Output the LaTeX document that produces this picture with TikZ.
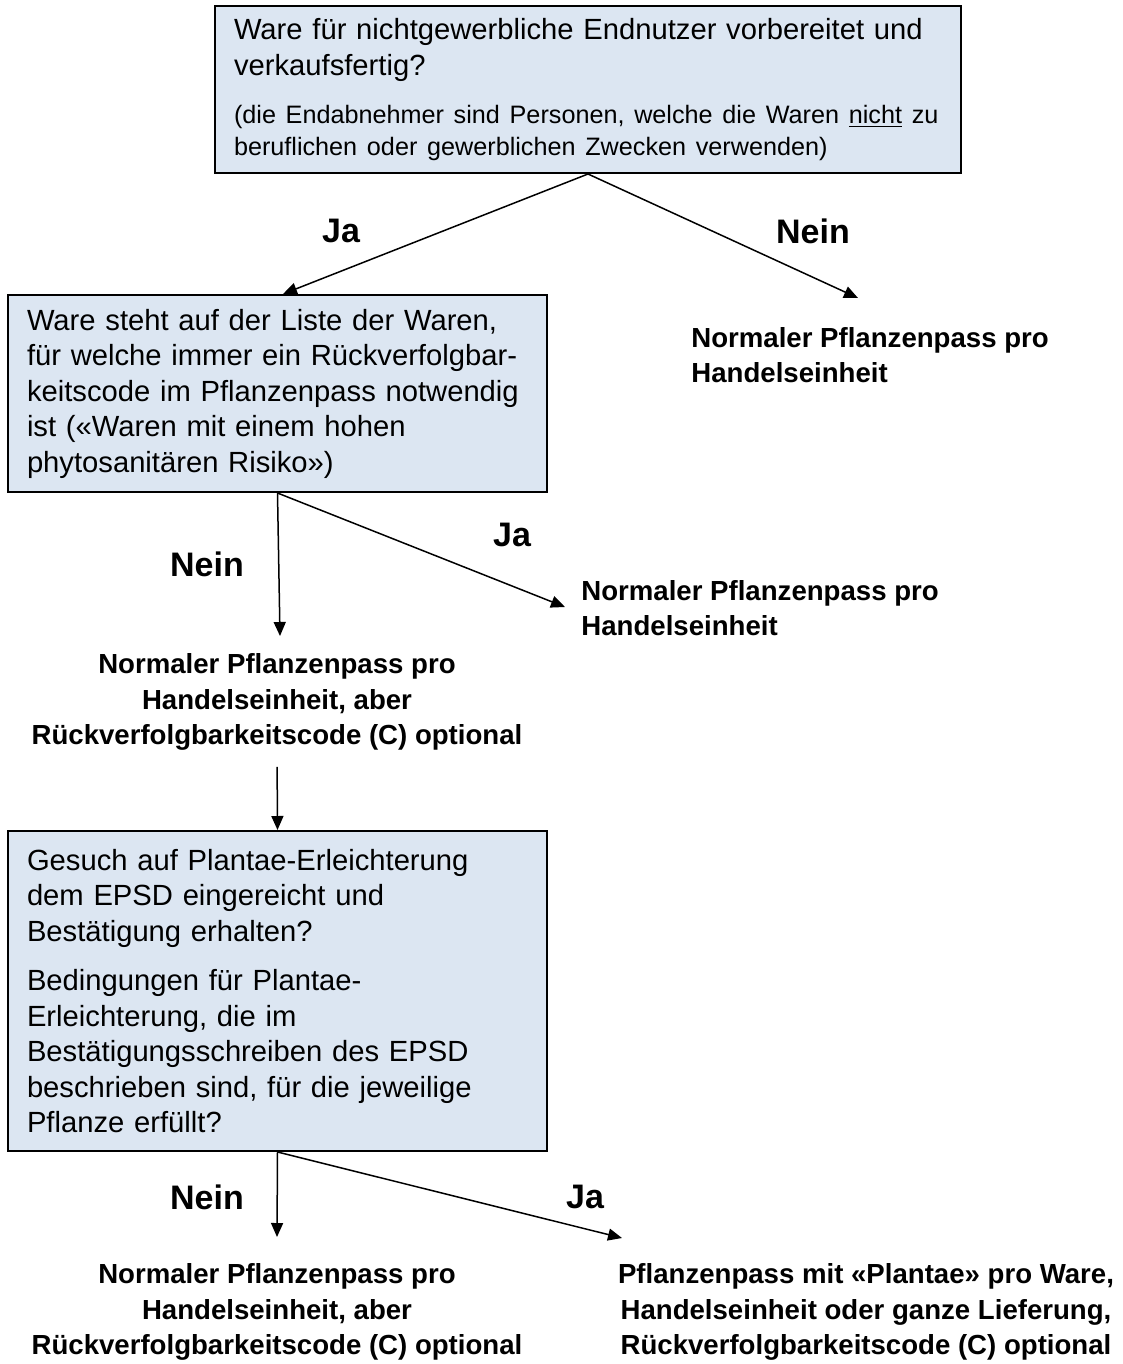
\documentclass[tikz,border=0pt]{standalone}
\usepackage{fontspec}
\setmainfont{Liberation Sans}
\usetikzlibrary{arrows.meta}
\definecolor{boxblue}{HTML}{DCE6F2}
\tikzset{
    box/.style={draw,line width=1pt,fill=boxblue,align=left,inner xsep=9.5pt,font=\fontsize{14.6}{17.75}\selectfont},
    outcome/.style={align=center,inner sep=0pt,font=\bfseries\fontsize{13.8}{17.75}\selectfont},
    answer/.style={font=\bfseries\fontsize{17}{18}\selectfont,inner sep=0pt},
    arr/.style={line width=0.75pt,-{Triangle[length=7pt,width=6pt]}}
}
\begin{document}
\begin{tikzpicture}[x=0.5pt,y=-0.5pt]
        \useasboundingbox (0,0) rectangle (1123,1364);
        % questions
        \node[box,minimum width=373pt,minimum height=83.5pt,text width=354pt] (q1) at (588,89.5)
            {Ware für nichtgewerbliche Endnutzer vorbereitet und\\ verkaufsfertig?\par\vspace{8pt}
            {\fontsize{12.6}{16}\selectfont (die Endabnehmer sind Personen, welche die Waren \underline{nicht} zu\\
            beruflichen oder gewerblichen Zwecken verwenden)\par}};
        \node[box,minimum width=269.5pt,minimum height=98.5pt,text width=250.5pt] (q2) at (277.5,393.5)
            {Ware steht auf der Liste der Waren,\\ für welche immer ein Rückverfolgbar-\\ keitscode im Pflanzenpass notwendig\\ ist («Waren mit einem hohen\\ phytosanitären Risiko»)};
        \node[box,minimum width=269.5pt,minimum height=160pt,text width=250.5pt] (q3) at (277.5,991)
            {Gesuch auf Plantae-Erleichterung\\ dem EPSD eingereicht und\\ Bestätigung erhalten?\\[7pt]
            Bedingungen für Plantae-\\ Erleichterung, die im\\ Bestätigungsschreiben des EPSD\\ beschrieben sind, für die jeweilige\\ Pflanze erfüllt?};
        % outcomes
        \node[outcome,align=left,anchor=west] (o1) at (691,355) {Normaler Pflanzenpass pro\\ Handelseinheit};
        \node[outcome,align=left,anchor=west] (o2) at (581,608) {Normaler Pflanzenpass pro\\ Handelseinheit};
        \node[outcome] (o3) at (277,702) {Normaler Pflanzenpass pro\\ Handelseinheit, aber\\ Rückverfolgbarkeitscode (C) optional};
        \node[outcome] (o4) at (277,1312) {Normaler Pflanzenpass pro\\ Handelseinheit, aber\\ Rückverfolgbarkeitscode (C) optional};
        \node[outcome] (o5) at (866,1312) {Pflanzenpass mit «Plantae» pro Ware,\\ Handelseinheit oder ganze Lieferung,\\ Rückverfolgbarkeitscode (C) optional};
        % arrow tips
        \coordinate (t1) at (858,298);
        \coordinate (t2) at (280,636);
        \coordinate (t3) at (565,607);
        \coordinate (t4) at (277,1237);
        \coordinate (t5) at (622,1238);
        \draw[arr] (q1.south) -- ([xshift=2.75pt]q2.north);
        \draw[arr] (q1.south) -- (t1);
        \draw[arr] (q2.south) -- (t2);
        \draw[arr] (q2.south) -- (t3);
        \draw[arr,shorten <=8pt] (o3.south) -- (q3.north);
        \draw[arr] (q3.south) -- (t4);
        \draw[arr] (q3.south) -- (t5);
        % answers
        \node[answer] (a1) at (341,231) {Ja};
        \node[answer] (a2) at (813,231) {Nein};
        \node[answer] (a3) at (512,535) {Ja};
        \node[answer] (a4) at (207,564) {Nein};
        \node[answer] (a5) at (207,1197) {Nein};
        \node[answer] (a6) at (585,1197) {Ja};
\end{tikzpicture}
\end{document}
